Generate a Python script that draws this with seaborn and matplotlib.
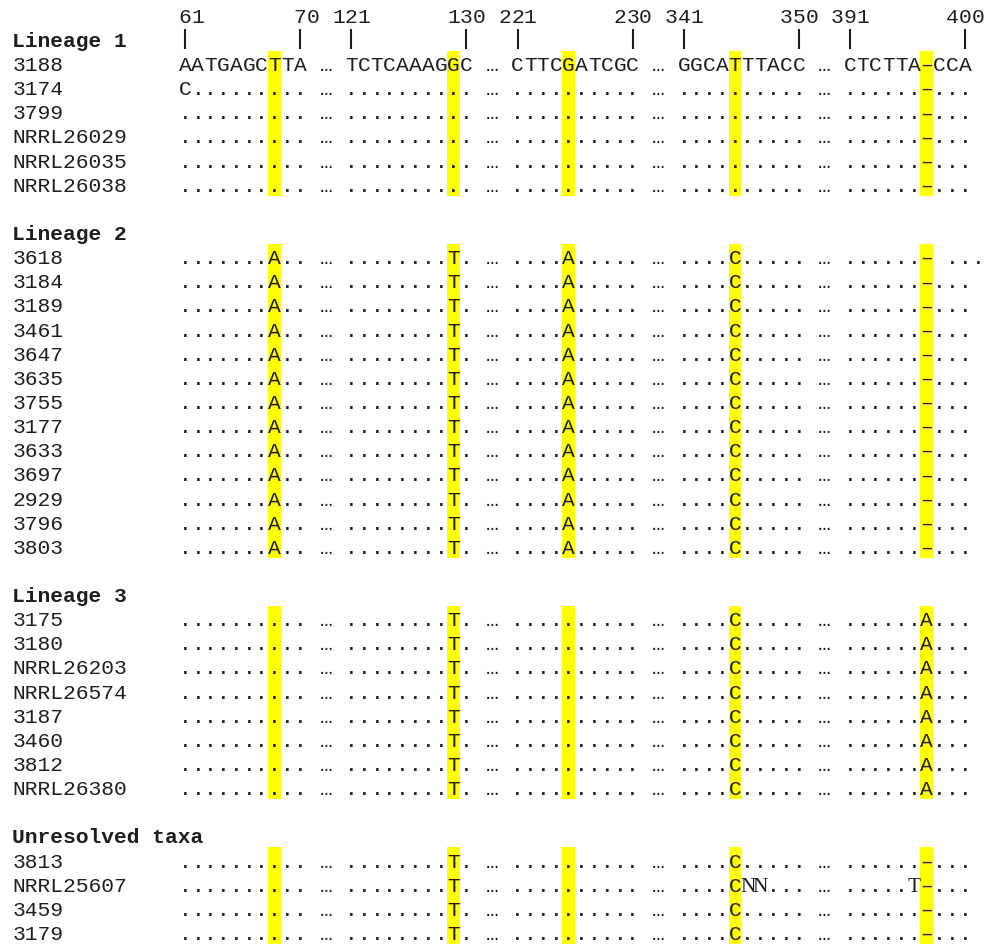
"""
Alignment excerpt with variable sites highlighted, drawn on a seaborn heatmap grid.
"""
import numpy as np
import pandas as pd
import matplotlib
matplotlib.use("Agg")
import matplotlib.pyplot as plt
from matplotlib.colors import ListedColormap
import seaborn as sns

# -------------------------------------------------------- data
BLOCK_STARTS    = [61, 121, 221, 341, 391]
BLOCK_LEN       = 10
TICK_SITES      = [61, 70, 121, 130, 221, 230, 341, 350, 391, 400]
HIGHLIGHT_SITES = [68, 129, 225, 345, 397]

GROUP_NAMES = ["Lineage 1", "Lineage 2", "Lineage 3", "Unresolved taxa"]

lineage1_taxa = ["3188", "3174", "3799", "NRRL26029", "NRRL26035", "NRRL26038"]
lineage1_seqs = [
    "AATGAGCTTA … TCTCAAAGGC … CTTCGATCGC … GGCATTTACC … CTCTTA-CCA",
    "C......... … .......... … .......... … .......... … ......-...",
    ".......... … .......... … .......... … .......... … ......-...",
    ".......... … .......... … .......... … .......... … ......-...",
    ".......... … .......... … .......... … .......... … ......-...",
    ".......... … .......... … .......... … .......... … ......-...",
]

lineage2_taxa = ["3618", "3184", "3189", "3461", "3647", "3635", "3755",
                 "3177", "3633", "3697", "2929", "3796", "3803"]
lineage2_seqs = (
    [".......A.. … ........T. … ....A..... … ....C..... … ......- ..."]
    + [".......A.. … ........T. … ....A..... … ....C..... … ......-..."] * 12
)

lineage3_taxa = ["3175", "3180", "NRRL26203", "NRRL26574", "3187", "3460",
                 "3812", "NRRL26380"]
lineage3_seqs = [".......... … ........T. … .......... … ....C..... … ......A..."] * 8

unresolved_taxa = ["3813", "NRRL25607", "3459", "3179"]
unresolved_seqs = [
    ".......... … ........T. … .......... … ....C..... … ......-...",
    ".......... … ........T. … .......... … ....CNN... … .....T-...",
    ".......... … ........T. … .......... … ....C..... … ......-...",
    ".......... … ........T. … .......... … ....C..... … ......-...",
]

AMBIG_TAXON = "NRRL25607"   # its extra calls are typeset in a serif face

# -------------------------------------------------------- layout
LABEL_COLS = 13
N_COLS     = LABEL_COLS + 63
FONT_SIZE  = 15.35
BASE       = 0.8            # baseline position inside a row
INK        = "#1e1e1e"
MONO       = ["Liberation Mono", "DejaVu Sans Mono"]


def site_col(site):
    for b, start in enumerate(BLOCK_STARTS):
        if start <= site < start + BLOCK_LEN:
            return LABEL_COLS + b * (BLOCK_LEN + 3) + site - start
    raise ValueError(site)


groups = [
    (GROUP_NAMES[0], lineage1_taxa, lineage1_seqs),
    (GROUP_NAMES[1], lineage2_taxa, lineage2_seqs),
    (GROUP_NAMES[2], lineage3_taxa, lineage3_seqs),
    (GROUP_NAMES[3], unresolved_taxa, unresolved_seqs),
]

rows = [("ticks", "", "")]
for gi, (name, taxa, seqs) in enumerate(groups):
    if gi:
        rows.append(("blank", "", ""))
    rows.append(("header", name, ""))
    for t, s in zip(taxa, seqs):
        rows.append(("taxon", t, s))
n_rows = len(rows)

hl_cols = [site_col(s) for s in HIGHLIGHT_SITES]
hl = np.full((n_rows, N_COLS), np.nan)
for r, (kind, _, _) in enumerate(rows):
    if kind == "taxon":
        hl[r, hl_cols] = 1.0
hl_df = pd.DataFrame(hl)

# -------------------------------------------------------- plot
sns.set_style("white")
plt.rcParams["font.family"] = MONO

W, H = 985, 945
row_h, col_w = 24.14, 12.79
left_px, top_px = 12.3, 3.4
fig = plt.figure(figsize=(W / 100, H / 100), dpi=100)
ax = fig.add_axes([left_px / W,
                   1 - (top_px + n_rows * row_h) / H,
                   N_COLS * col_w / W,
                   n_rows * row_h / H])

sns.heatmap(hl_df, mask=hl_df.isna(), cmap=ListedColormap(["#ffff00"]),
            cbar=False, xticklabels=False, yticklabels=False, ax=ax)
ax.axis("off")

txt = dict(fontsize=FONT_SIZE, color=INK, va="baseline")

# site numbers + tick bars
for site in TICK_SITES:
    c = site_col(site)
    label = str(site)
    start = c - len(label) + 2
    for i, ch in enumerate(label):
        ax.text(start + i + 0.5, 0 + BASE, ch, ha="center", **txt)
    ax.vlines(c + 0.5, 1.1, 1.93, color=INK, lw=1.5)

for r, (kind, label, seq) in enumerate(rows):
    if kind == "header":
        ax.text(0, r + BASE, label, ha="left", fontweight="bold", **txt)
    elif kind == "taxon":
        ax.text(0, r + BASE, label, ha="left", **txt)
        for i, ch in enumerate(seq):
            if ch == " ":
                continue
            c = LABEL_COLS + i
            fam = MONO
            if label == AMBIG_TAXON and ch.isalpha() and c not in hl_cols:
                fam = ["Liberation Serif"]
            glyph = "\u2013" if ch == "-" else ch
            ax.text(c + 0.5, r + BASE, glyph, ha="center", family=fam, **txt)

fig.savefig("out.png", dpi=100)
plt.close(fig)
